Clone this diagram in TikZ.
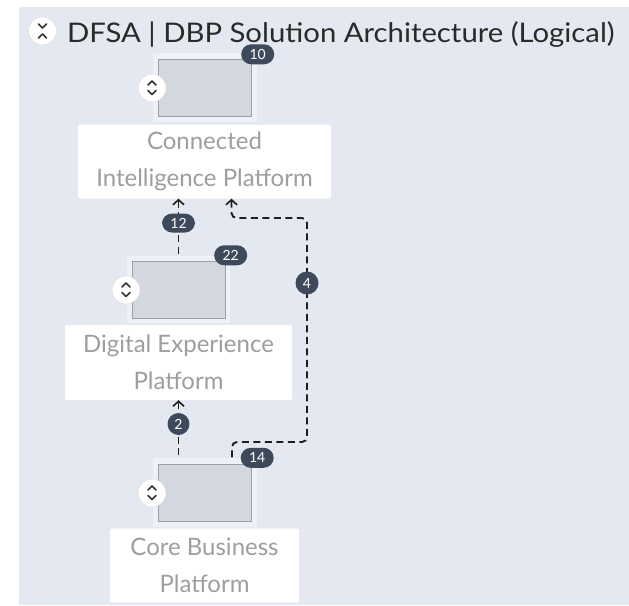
\documentclass[tikz,border=0pt]{standalone}
\usepackage{fontspec}
\setmainfont{Lato}
\newfontfamily\titlefont[FakeStretch=1.085]{Lato}
\usetikzlibrary{arrows.meta}
\definecolor{panelcol}{HTML}{E4E8F0}
\definecolor{framecol}{HTML}{EEF1F5}
\definecolor{thumbfill}{HTML}{D3D8E0}
\definecolor{thumbborder}{HTML}{9AA0A9}
\definecolor{badgecol}{HTML}{3E4A5B}
\definecolor{txtgray}{HTML}{9E9E9E}
\definecolor{titlecol}{HTML}{2A2A2A}
\definecolor{linecol}{HTML}{1E1E1E}
\definecolor{chevcol}{HTML}{333333}
\tikzset{
  labelbox/.style={fill=white, rounded corners=2pt, inner sep=0pt, text=txtgray, align=center,
    font=\fontsize{24}{37.5}\selectfont},
  framebox/.style={fill=framecol, inner sep=0pt, minimum width=104pt, minimum height=69pt},
  thumbbox/.style={fill=thumbfill, draw=thumbborder, line width=0.9pt, inner sep=0pt,
    minimum width=94pt, minimum height=57pt},
  pill/.style={fill=badgecol, text=white, rounded corners=10pt, inner sep=0pt,
    minimum width=33pt, minimum height=20pt, font=\fontsize{14}{16}\selectfont},
  dot/.style={circle, fill=badgecol, text=white, inner sep=0pt, minimum size=23pt,
    font=\fontsize{14}{16}\selectfont},
  togglebtn/.style={circle, fill=white, draw=white!85!black, line width=0.4pt, inner sep=0pt, minimum size=28pt},
  chev/.style={draw=chevcol, line width=1.6pt, line cap=round, line join=round},
  conn/.style={draw=linecol, line width=1.9pt, dash pattern=on 7pt off 4.5pt,
    {Straight Barb[length=5pt,width=11pt,line width=1.6pt]}-},
}
\begin{document}
\begin{tikzpicture}[x=1pt,y=-1pt]
\useasboundingbox (0,0) rectangle (629,605);
\fill[panelcol] (19,7) rectangle (629,605);

% title
\node[togglebtn] (coll) at (42.5,31) {};
\draw[chev] ([shift={(-4,-7)}]coll.center) -- ++(4,4) -- ++(4,-4);
\draw[chev] ([shift={(-4,7)}]coll.center) -- ++(4,-4) -- ++(4,4);
\node[anchor=base west, inner sep=0pt, text=titlecol, font=\titlefont\fontsize{27}{32}\selectfont] (title) at (67,42)
  {DFSA | DBP Solution Architecture (Logical)};

% label boxes
\node[labelbox, minimum width=253pt, minimum height=74pt] (cip) at (204.5,161.5) {Connected\\Intelligence Platform};
\node[labelbox, minimum width=227pt, minimum height=75pt] (dep) at (178.5,362.5) {Digital Experience\\Platform};
\node[labelbox, minimum width=189pt, minimum height=74pt] (cbp) at (204.5,565.5) {Core Business\\Platform};

% thumbnail centres
\coordinate (cipc) at (204.5,87.5);
\coordinate (depc) at (178.5,289.5);
\coordinate (cbpc) at (205,492.5);

% connector junctions
\coordinate (j1) at (307,218);
\coordinate (j2) at (307,442);
\coordinate (cipn) at (178.5,256);
\coordinate (cbpn) at (178.5,458);
\coordinate (cbpn4) at (232,458);

% connectors
\draw[conn] (dep.south) -- (cbpn);
\draw[conn] (cipn |- cip.south) -- (cipn);
\draw[conn, rounded corners=5pt] ([xshift=27pt]cip.south) |- (j1) -- (j2) -| (cbpn4);

% thumbnails
\node[framebox] (cipf) at (cipc) {};
\node[thumbbox, minimum width=93pt] (cipt) at (cipf) {};
\node[framebox, minimum width=103pt, minimum height=67pt] (depf) at (depc) {};
\node[thumbbox, minimum width=93pt] (dept) at (depf) {};
\node[framebox] (cbpf) at (cbpc) {};
\node[thumbbox, minimum width=93pt] (cbpt) at (cbpf) {};

% toggles
\foreach \t/\p in {tg1/{(152,88)}, tg2/{(126,290)}, tg3/{(152,493)}}{
  \node[togglebtn] (\t) at \p {};
  \draw[chev] ([shift={(-4,-3)}]\t.center) -- ++(4,-4) -- ++(4,4);
  \draw[chev] ([shift={(-4,2.5)}]\t.center) -- ++(4,4) -- ++(4,-4);
}

% badges
\node[pill] (b10) at ([xshift=1pt,yshift=-1.5pt]cipf.north east) {10};
\node[pill] (b22) at ([xshift=0.5pt,yshift=0.5pt]depf.north east) {22};
\node[pill] (b14) at (cbpf.north east) {14};
\node[pill, minimum height=19pt] (b12) at (178.5,223) {12};
\node[dot] (b4) at (307,283) {4};
\node[dot, minimum size=22pt] (b2) at (178.5,424) {2};
\end{tikzpicture}
\end{document}
